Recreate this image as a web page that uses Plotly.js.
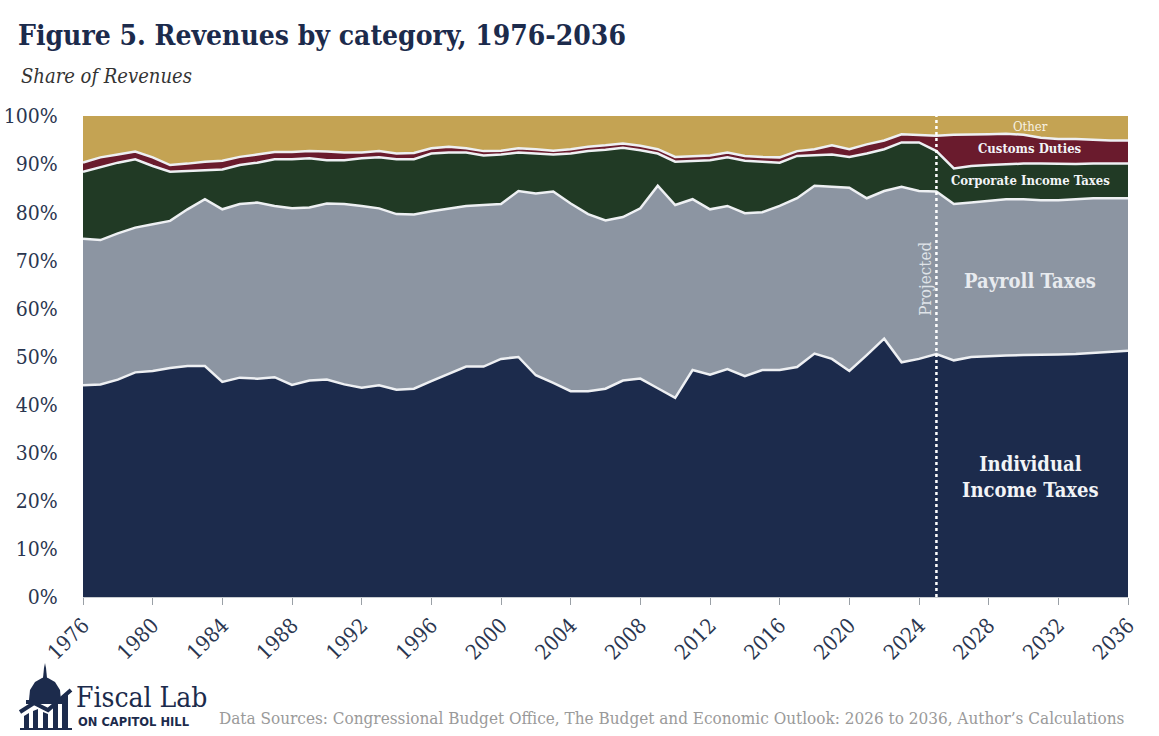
<!DOCTYPE html>
<html>
<head>
<meta charset="utf-8">
<script src="https://cdn.plot.ly/plotly-3.0.1.min.js"></script>
<style>
html,body{margin:0;padding:0;background:#fff;}
#chart{width:1159px;height:736px;}
</style>
</head>
<body>
<div id="chart"></div>
<script>
const years = [1976,1977,1978,1979,1980,1981,1982,1983,1984,1985,1986,1987,1988,1989,1990,1991,1992,1993,1994,1995,1996,1997,1998,1999,2000,2001,2002,2003,2004,2005,2006,2007,2008,2009,2010,2011,2012,2013,2014,2015,2016,2017,2018,2019,2020,2021,2022,2023,2024,2025,2026,2027,2028,2029,2030,2031,2032,2033,2034,2035,2036];

const individualIncome = [44.0,44.2,45.2,46.7,47.0,47.6,48.0,48.0,44.7,45.6,45.4,45.7,44.1,45.0,45.2,44.2,43.5,44.0,43.1,43.3,44.9,46.4,47.9,47.9,49.5,49.9,46.1,44.5,42.8,42.8,43.3,45.0,45.4,43.4,41.4,47.2,46.2,47.4,45.9,47.2,47.2,47.8,50.6,49.5,47.0,50.3,53.7,48.8,49.5,50.5,49.2,49.9,50.1,50.2,50.3,50.3,50.4,50.5,50.7,50.9,51.2];

const payroll = [30.5,30.0,30.4,30.1,30.5,30.6,32.6,34.7,35.9,36.1,36.6,35.6,36.7,36.0,36.6,37.5,37.8,36.8,36.5,36.2,35.3,34.4,33.4,33.6,32.2,34.5,37.8,39.8,39.0,36.8,35.0,34.0,35.4,42.1,40.1,35.5,34.4,33.9,33.9,32.8,34.1,35.1,34.9,35.8,38.1,32.6,30.7,36.5,34.9,33.8,32.5,32.1,32.3,32.5,32.4,32.2,32.1,32.2,32.2,32.0,31.7];

const corporate = [13.9,15.2,14.7,14.2,12.1,10.2,8.0,6.0,8.3,8.1,8.3,9.7,10.2,10.2,9.0,9.1,9.9,10.6,11.4,11.5,12.0,11.6,11.1,10.3,10.3,8.0,8.3,7.7,10.4,13.1,14.7,14.4,12.1,6.7,9.0,8.0,10.2,10.1,10.9,10.5,9.0,8.8,6.3,6.7,6.4,9.3,8.7,9.2,10.1,8.4,7.4,7.6,7.4,7.3,7.4,7.6,7.5,7.3,7.2,7.2,7.2];

const customs = [1.9,2.0,1.7,1.6,1.8,1.4,1.5,1.8,1.8,1.7,1.7,1.5,1.5,1.5,1.8,1.6,1.2,1.3,1.2,1.3,1.1,1.2,0.9,0.9,0.8,0.9,0.9,0.8,0.9,0.9,0.9,0.9,0.9,0.9,1.0,1.0,1.0,1.0,1.0,1.0,1.1,1.0,1.3,1.9,1.6,1.9,1.8,1.7,1.6,3.2,7.0,6.5,6.4,6.3,6.0,5.4,5.2,5.2,4.9,4.8,4.8];

const other = [9.7,8.6,8.0,7.4,8.6,10.2,9.9,9.5,9.3,8.5,8.0,7.5,7.5,7.3,7.4,7.6,7.6,7.3,7.8,7.7,6.7,6.4,6.7,7.3,7.2,6.7,6.9,7.2,6.9,6.4,6.1,5.7,6.2,6.9,8.5,8.3,8.2,7.6,8.3,8.5,8.6,7.3,6.9,6.1,6.9,5.9,5.1,3.8,3.9,4.1,3.9,3.9,3.8,3.7,3.9,4.5,4.8,4.8,5.0,5.1,5.1];

const xTickVals = [1976,1980,1984,1988,1992,1996,2000,2004,2008,2012,2016,2020,2024,2028,2032,2036];
const yTickVals = [0,10,20,30,40,50,60,70,80,90,100];
const yTickText = ['0%','10%','20%','30%','40%','50%','60%','70%','80%','90%','100%'];
const projectionYear = 2025;

const seriesNames = ['Individual Income Taxes','Payroll Taxes','Corporate Income Taxes','Customs Duties','Other'];
const seriesData = [individualIncome, payroll, corporate, customs, other];
const seriesColors = ['#1c2b4c','#8c95a2','#213a25','#6a1b2d','#c4a353'];

const lineCol = '#eef0f3';
const traces = seriesData.map((vals, i) => ({
  x: years, y: vals, name: seriesNames[i], type: 'scatter', mode: 'lines',
  stackgroup: 'one', fillcolor: seriesColors[i],
  line: {color: i === 4 ? seriesColors[i] : lineCol, width: i === 4 ? 0 : 2.5},
  hoverinfo: 'skip'
}));

// pixel -> paper helpers for decorative layout items (plot area 83..1128 x, 116..597 y)
const PL = 83, PR = 1128, PT = 116, PB = 597;
const px = v => (v - PL) / (PR - PL);
const py = v => (PB - v) / (PB - PT);
function pathFrom(points, close) {
  return points.map((p, k) => (k ? 'L' : 'M') + px(p[0]).toFixed(5) + ',' + py(p[1]).toFixed(5)).join(' ') + (close ? ' Z' : '');
}

const serif = 'DejaVu Serif Condensed, DejaVu Serif, serif';
const navy = '#1c2b4c';

const shapes = [
  {type: 'line', xref: 'x', yref: 'paper', x0: projectionYear, x1: projectionYear, y0: 0, y1: 1.01,
   line: {color: '#ffffff', width: 2.5, dash: 'dot'}, layer: 'above'},
  // logo: dome
  {type: 'path', xref: 'paper', yref: 'paper', path: pathFrom([[29,700],[30,690],[35,682],[42,678],[45,677],[48,678],[55,682],[60,690],[61,700]], true), fillcolor: navy, line: {width: 0}},
  {type: 'path', xref: 'paper', yref: 'paper', path: pathFrom([[43,678],[44,668],[45,663],[46,668],[47,678]], true), fillcolor: navy, line: {width: 0}},
  {type: 'path', xref: 'paper', yref: 'paper', path: pathFrom([[26,700],[64,700],[64,704],[26,704]], true), fillcolor: navy, line: {width: 0}},
  {type: 'path', xref: 'paper', yref: 'paper', path: pathFrom([[20,712],[34,703],[48,710],[71,690]], false), line: {color: navy, width: 4}},
  {type: 'path', xref: 'paper', yref: 'paper', path: pathFrom([[24,716],[29,713],[29,728],[24,728]], true), fillcolor: navy, line: {width: 0}},
  {type: 'path', xref: 'paper', yref: 'paper', path: pathFrom([[33,711],[38,709],[38,728],[33,728]], true), fillcolor: navy, line: {width: 0}},
  {type: 'path', xref: 'paper', yref: 'paper', path: pathFrom([[43,712],[48,714],[48,728],[43,728]], true), fillcolor: navy, line: {width: 0}},
  {type: 'path', xref: 'paper', yref: 'paper', path: pathFrom([[53,706],[58,702],[58,728],[53,728]], true), fillcolor: navy, line: {width: 0}},
  {type: 'path', xref: 'paper', yref: 'paper', path: pathFrom([[62,698],[68,693],[68,728],[62,728]], true), fillcolor: navy, line: {width: 0}},
  {type: 'path', xref: 'paper', yref: 'paper', path: pathFrom([[20,728],[72,728],[72,730],[20,730]], true), fillcolor: navy, line: {width: 0}}
];

const labelFont = (size, color) => ({family: serif, size: size, color: color});

const annotations = [
  {xref: 'paper', yref: 'paper', x: px(19), y: py(76), xanchor: 'left', yanchor: 'middle', showarrow: false,
   text: '<i>Share of Revenues</i>', font: {family: serif, size: 20, color: '#333333'}},
  {xref: 'x', yref: 'y', x: 2030.4, y: 65.6, showarrow: false, text: '<b>Payroll Taxes</b>', font: labelFont(20, '#e8ebef')},
  {xref: 'x', yref: 'y', x: 2030.4, y: 25.0, showarrow: false, text: '<b>Individual<br>Income Taxes</b>', font: labelFont(20, '#f2f4f7')},
  {xref: 'x', yref: 'y', x: 2030.4, y: 86.5, showarrow: false, text: '<b>Corporate Income Taxes</b>', font: labelFont(13, '#f2f4f7')},
  {xref: 'x', yref: 'y', x: 2030.4, y: 93.2, showarrow: false, text: '<b>Customs Duties</b>', font: labelFont(13, '#f2f4f7')},
  {xref: 'x', yref: 'y', x: 2030.4, y: 97.9, showarrow: false, text: 'Other', font: labelFont(13, '#f7f1e0')},
  {xref: 'x', yref: 'y', x: 2024.3, y: 66.2, showarrow: false, text: 'Projected', textangle: -90, font: labelFont(17, '#dfe3e8')},
  {xref: 'paper', yref: 'paper', x: px(74), y: py(697), xanchor: 'left', yanchor: 'middle', showarrow: false,
   text: 'Fiscal Lab', font: {family: serif, size: 28, color: navy}},
  {xref: 'paper', yref: 'paper', x: px(76), y: py(722), xanchor: 'left', yanchor: 'middle', showarrow: false,
   text: '<b>ON CAPITOL HILL</b>', font: {family: 'DejaVu Sans, sans-serif', size: 11.5, color: navy}},
  {xref: 'paper', yref: 'paper', x: px(217), y: py(718), xanchor: 'left', yanchor: 'middle', showarrow: false,
   text: 'Data Sources: Congressional Budget Office, The Budget and Economic Outlook: 2026 to 2036, Author\u2019s Calculations',
   font: {family: serif, size: 17, color: '#9a9a9a'}}
];

const layout = {
  width: 1159, height: 736,
  margin: {l: PL, r: 1159 - PR, t: PT, b: 736 - PB, pad: 0},
  paper_bgcolor: '#ffffff', plot_bgcolor: '#ffffff',
  showlegend: false,
  title: {text: '<b>Figure 5. Revenues by category, 1976-2036</b>', xref: 'container', yref: 'container',
          x: 18 / 1159, xanchor: 'left', y: 1 - 35 / 736, yanchor: 'middle',
          font: {family: serif, size: 28, color: navy}},
  xaxis: {range: [1976, 2036], tickvals: xTickVals, ticktext: xTickVals.map(String), tickangle: -45,
          ticks: 'outside', ticklen: 7, tickcolor: '#9aa0a6', tickwidth: 1,
          showgrid: false, zeroline: false, showline: true, linecolor: '#c8ccd0', linewidth: 1,
          tickfont: {family: serif, size: 21, color: '#2a3650'}, fixedrange: true},
  yaxis: {range: [0, 100], tickvals: yTickVals, ticktext: yTickText, showgrid: false, zeroline: false,
          showline: false, ticks: 'outside', ticklen: 20, tickcolor: 'rgba(0,0,0,0)',
          tickfont: {family: serif, size: 21, color: '#2a3650'}, fixedrange: true},
  shapes: shapes,
  annotations: annotations
};

Plotly.newPlot('chart', traces, layout, {displayModeBar: false, staticPlot: true});
</script>
</body>
</html>
